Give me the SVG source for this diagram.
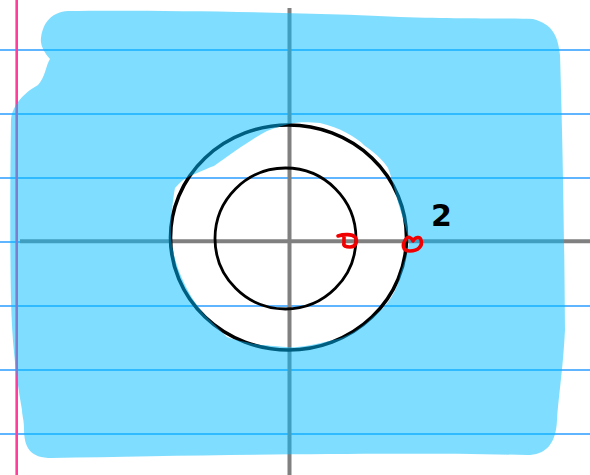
<svg xmlns="http://www.w3.org/2000/svg" width="590" height="475" viewBox="0 0 590 475">
<style>
.rule{stroke:#2a9dff;stroke-width:1.6}
.axis{stroke:#808080;stroke-width:4;fill:none}
.red{stroke:#f00000;stroke-width:3.6;fill:none;stroke-linecap:round;stroke-linejoin:round}
</style>
<rect width="590" height="475" fill="#ffffff"/>
<g id="paper">
<line class="rule" x1="0" y1="50" x2="590" y2="50"/>
<line class="rule" x1="0" y1="114" x2="590" y2="114"/>
<line class="rule" x1="0" y1="178" x2="590" y2="178"/>
<line class="rule" x1="0" y1="242" x2="590" y2="242"/>
<line class="rule" x1="0" y1="306" x2="590" y2="306"/>
<line class="rule" x1="0" y1="370" x2="590" y2="370"/>
<line class="rule" x1="0" y1="434" x2="590" y2="434"/>
<line x1="16.7" y1="0" x2="16.7" y2="475" stroke="#ff3d9a" stroke-width="2.6"/>
</g>
<g id="axes">
<line class="axis" x1="289.5" y1="8" x2="289.5" y2="475"/>
<line class="axis" x1="20" y1="241.3" x2="590" y2="241.3"/>
</g>
<g id="outer-circle">
<ellipse cx="288.5" cy="237.5" rx="118" ry="112.5" fill="none" stroke="#000" stroke-width="3.6"/>
</g>
<g id="shading">
<path fill="#00bdff" fill-opacity="0.5" fill-rule="evenodd" d="M68 11 C150 10 300 12 400 17 C460 19 510 18 533 19 C552 24 558 35 560 55 C562 120 564 200 565 330 C563 370 558 400 557 420 C556 445 545 455 527 455 C400 452 200 455 52 458 C30 458 24 448 24 428 C24 420 22 415 22 410 C15 370 12 340 11 300 C10 250 10 180 11 120 C12 105 25 92 38 85 C45 78 46 65 50 59 C44 52 40 45 41 38 C43 22 52 12 68 11 Z
M267 131 C290 122 300 121 320 123 C340 128 355 136 365 146 C378 155 385 163 388 168 C392 178 396 196 401 212 C405 225 408 236 409 243 C406 260 401 270 399 280 C394 297 385 307 373 317 C360 330 345 338 333 340 C310 346 296 348 287 347 C272 346 265 345 260 345 C245 342 235 340 227 337 C215 325 208 318 203 313 C188 295 176 270 172 245 C170 232 171 220 172 210 C173 200 174 193 175 188 C180 182 185 178 190 176 C200 172 208 168 214 166 C230 155 250 140 267 131 Z"/>
</g>
<g id="inner-circle">
<circle cx="285.5" cy="238.5" r="70.5" fill="none" stroke="#000" stroke-width="2.8"/>
</g>
<g id="marks">
<path class="red" d="M338 236 C344 234 352 234 355 237 C358 241 356 247 350 247 C346 247 343 246 344 243 L344 237"/>
<path class="red" d="M406 239 C402 244 402 251 410 251 C418 251 423 246 421 240 C420 236 415 237 413 241 C411 237 408 236 406 239"/>
</g>
<g id="label">
<text x="431" y="226" font-family="DejaVu Sans, sans-serif" font-size="30" font-weight="bold" fill="#000">2</text>
</g>
</svg>
